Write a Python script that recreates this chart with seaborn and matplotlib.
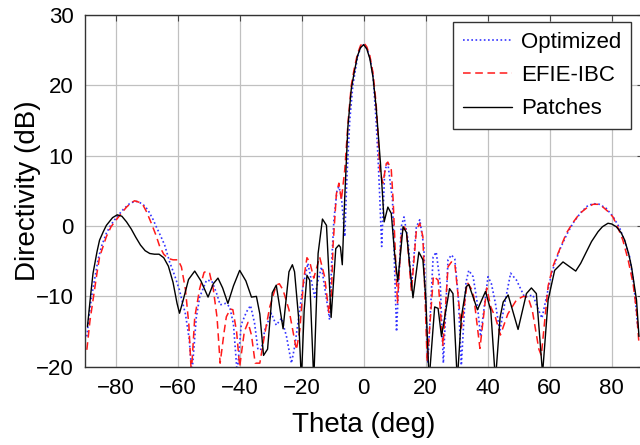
import numpy as np
import pandas as pd
import matplotlib
matplotlib.use("Agg")
import matplotlib.pyplot as plt
import seaborn as sns

# Patches (black solid)
patch_theta = [-89.1, -88, -87.3, -86, -85.2, -84, -83, -81, -79.5, -78, -76.5, -75, -73.5, -72,
               -70.5, -69, -67.5, -66, -64.5, -63, -61.5, -60.2, -59.4, -58.2, -56.5, -54.5, -52.5,
               -50.2, -48.5, -47, -45.5, -43.8, -42, -40, -38, -36.2, -34.6, -33.5, -32.3, -31,
               -29.5, -28.2, -26, -24.1, -23, -22.3, -21, -20.1, -19.2, -18.3, -17.4, -16.1, -14.7,
               -13.3, -12, -10.5, -9, -8, -7.5, -6.9, -6.1, -5.1, -4, -3, -2, -1, 0, 1, 2, 3, 4,
               4.8, 5.4, 6, 6.6, 7.8, 8.9, 10, 11, 12.7, 13.8, 15.9, 17.8, 19.1, 20, 21.1, 22.9, 24,
               25.1, 26.5, 27.7, 28.8, 30.2, 31.5, 33.1, 33.9, 36.7, 39.3, 41, 42.5, 44, 45, 46.6,
               49.8, 52.5, 54.1, 55.7, 57.7, 59.5, 61.6, 64.3, 66.5, 68.4, 70, 71.8, 73.5, 75.6, 77,
               78.8, 80, 81.5, 83, 84.2, 85.5, 86.4, 88, 88.8]
patch_db = [-14.3, -9.5, -6.7, -3.6, -2.0, -0.8, 0.1, 1.2, 1.6, 1.4, 0.6, -0.4, -1.6, -2.7,
            -3.5, -3.9, -4.0, -4.0, -4.5, -5.7, -8.0, -11, -12.4, -10.5, -7.6, -6.4, -7.8,
            -10.1, -8.2, -7.4, -8.8, -11, -8.5, -6.3, -7.8, -10.1, -10, -12.5, -18.4, -17.5,
            -9.5, -8.4, -14.6, -6.5, -5.5, -6.5, -13, -22, -12, -7, -7.7, -22, -3.9,
            1.0, 0.1, -13, -3.2, -2.7, -3, -5.5, 4.2, 14.1, 19.5, 22, 24.2, 25.4, 25.8, 25.2, 23.8, 21.2, 17,
            12.5, 9, 5, 0.6, 2.7, 1.8, -4, -7.9, -0.1, -0.9, -10.2, -3.7, -4.8, -10, -22, -11.5, -11.7,
            -15.7, -12, -8.9, -9.6, -22, -13, -8.6, -8.3, -11.9, -9.3, -12, -22, -13, -10.8, -9.8,
            -14.7, -9.6, -8.8, -9.6, -21, -10.5, -6.3, -5.1, -5.8, -6.4, -5.3, -3.7, -2.2, -0.8, -0.1,
            0.4, 0.3, -0.1, -0.9, -2, -4, -5.8, -10.5, -15.7]

# EFIE-IBC (red dashed)
efie_theta = [-89.3, -88.3, -87.3, -86, -85.2, -84, -83, -81.5, -79.8, -78, -76.5, -75, -73.9,
              -72.5, -71.2, -70, -68.5, -67, -65.8, -64.5, -63.1, -61.5, -59.9, -58.8, -57.5,
              -56.4, -55.6, -54.5, -52.9, -51.5, -50.7, -49.7, -48.5, -47.3, -46.3, -45, -44.3,
              -43, -42.2, -41, -40, -38.5, -37.3, -36.2, -35, -33.5, -31.9, -30.3, -28.2, -27.2,
              -26, -24.1, -21.7, -20.6, -19.4, -18.3, -17.4, -16.1, -14.2, -12.6, -11.2, -10.4,
              -9.9, -8.8, -8, -7.2, -6.1, -5, -4, -3, -2, -1, 0, 1, 2, 3, 4, 4.7, 5.2, 6.2, 7.3,
              7.8, 8.9, 9.5, 10.9, 12.1, 13, 13.8, 15.4, 17, 18.1, 19.1, 20.5, 22.5, 24, 25.6,
              27.2, 28.3, 29.4, 31.5, 33.4, 34.7, 35.5, 37.5, 39.7, 41, 42.5, 44.1, 46.5, 49.3,
              51.5, 53, 54.4, 56.5, 57.3, 59.5, 61, 62.2, 65.4, 67.5, 69.7, 72, 74, 75.5, 77.2,
              79, 80.4, 82, 83.6, 85.3, 86.9, 88, 88.8]
efie_db = [-17.6, -13.5, -10.5, -6.6, -4.4, -2.8, -1.5, -0.1, 0.9, 1.9, 2.7, 3.3, 3.6,
           3.4, 3.0, 2.0, 0.4, -1.3, -2.9, -4.0, -4.6, -4.8, -4.8, -5.8, -9,
           -14, -21, -13, -8.9, -6.6, -6.4, -6.7, -9, -13, -19.5, -15, -12.9,
           -11.8, -11.9, -15, -20, -15, -13.7, -15.5, -19.5, -19.5, -15.3, -11.5, -8.4, -8.2,
           -9.1, -11.9, -17.6, -14.8, -7.7, -4.5, -5.1, -7.4, -4.4, -7.2, -12.4, -9.6,
           -2.9, 4.6, 6.1, 3.7, 8, 15, 20, 22.5, 24.5, 25.7, 26.1, 25.5, 24.2, 21.8, 17.5, 12.5, 8, 6.1, 8.9,
           9.1, 8, 3.7, -11, -1.5, -0.1, -0.6, -9.3, -0.6, 0.4, -1.5, -19.3, -7.1, -7.7, -17,
           -5.8, -5.1, -5.3, -14.5, -8, -8.9, -10, -17.4, -8.8, -11.5, -13, -15.5, -12.5, -10.5,
           -10, -10.1, -12, -17.5, -18.4, -8.5, -5.8, -4.4, -1.0, 0.5, 1.8, 2.6, 3.1, 3.1, 2.7,
           2.0, 1.3, -0.2, -2, -4.8, -8.2, -12, -16.7]

# Optimized (blue dotted)
opt_theta = [-89.3, -88.5, -87.8, -86.5, -85.7, -84.5, -83, -81.5, -79.8, -77.5, -75.5, -74, -72.8,
             -71, -69.6, -68, -66.9, -65.5, -64.2, -62.6, -61, -59.5, -57.5, -56.3, -55.4, -54,
             -52.9, -50.7, -49, -47.5, -46.3, -44.5, -43.2, -42, -40.8, -39.5, -37.8, -36.5,
             -35.2, -34.1, -33, -31.9, -29.8, -28.2, -26.5, -24.9, -23.3, -22.2, -21.2, -19.6,
             -18, -16.9, -15.8, -14.7, -13.6, -12.3, -11, -10.3, -9.6, -8.6, -8, -7.2, -6.1,
             -5.4, -4.5, -3.5, -2, -1, 0, 1, 2, 3, 4, 4.6, 5.2, 5.8, 6.8, 7.8, 9.3, 10.6, 12.1,
             13, 14.3, 15.4, 17, 18.1, 19.4, 20.7, 22.4, 23.4, 24.7, 25.7, 27.2, 28.3, 29.4, 30.5,
             31.5, 33, 33.9, 35.3, 36.5, 37.7, 40.1, 41.2, 42.5, 43.9, 45.5, 47.4, 49.3, 51.9,
             54.6, 56, 57.5, 59, 60.5, 61.5, 63.2, 65.5, 67.5, 70, 72, 74, 76, 78.3, 80.5, 82.6,
             84.3, 85.8, 87.2, 88.5]
opt_db = [-15.7, -12.5, -10.1, -6.8, -4.8, -2.8, -1.0, 0.2, 1.2, 2.4, 3.2, 3.5, 3.5,
          3.0, 2.3, 1.0, -0.1, -1.4, -2.7, -5.1, -7.0, -9, -12.5, -16, -21, -13,
          -10.1, -7.7, -7.8, -9.5, -11.2, -11, -11.5, -14, -21, -14, -12.2, -11.3,
          -13.8, -17.6, -17.5, -14.8, -12.4, -14.1, -13.1, -15.7, -19.5, -17, -13.8, -8.6,
          -5.3, -7.7, -10.1, -7.7, -5.8, -9.6, -13.3, -5, 0.9, 5.1, 5.6, 4.2, -1.5,
          7, 15, 20, 24, 25.4, 25.8, 25.3, 24, 21.5, 15, 10, 4, -2.9, 8, 8.9, 3.7, -15, -0.1,
          1.3, -2, -8.6, -0.1, 0.9, -2.9, -19.5, -4.4, -3.7, -8.2, -19.5, -4.8, -4.1, -4.7, -10,
          -19.8, -8, -6.3, -7.2, -10.5, -15.7, -7.2, -8.2, -11, -15, -11, -6.7, -7.7, -10.1,
          -9.8, -11.5, -13.1, -10, -7, -5.5, -3.4, -1.2, 0.4, 1.9, 2.8, 3.2, 3.1, 2.5, 1.3, -0.3,
          -2.3, -4.4, -8.5, -14.8]

x_ticks = [-80, -60, -40, -20, 0, 20, 40, 60, 80]
y_ticks = [-20, -10, 0, 10, 20, 30]

sns.set_theme(style="whitegrid")
plt.rcParams['font.family'] = ['Liberation Sans', 'DejaVu Sans']
plt.rcParams['text.color'] = 'black'
plt.rcParams['axes.labelcolor'] = 'black'
plt.rcParams['xtick.color'] = 'black'
plt.rcParams['ytick.color'] = 'black'

fig = plt.figure(figsize=(6.4, 4.45), dpi=100)
ax = fig.add_axes([0.1323, 0.176, 0.8719, 0.7899])

sns.lineplot(x=opt_theta, y=opt_db, ax=ax, color='#3333ff', linestyle=(0, (1, 1.5)),
             linewidth=1.2, label='Optimized', sort=False)
sns.lineplot(x=efie_theta, y=efie_db, ax=ax, color='#ff1a1a', linestyle=(0, (5, 3)),
             linewidth=1.1, label='EFIE-IBC', sort=False)
sns.lineplot(x=patch_theta, y=patch_db, ax=ax, color='black', linestyle='-',
             linewidth=1.0, label='Patches', sort=False)

ax.set_xlim(-90, 90)
ax.set_ylim(-20, 30)
ax.set_xticks(x_ticks)
ax.set_yticks(y_ticks)
ax.grid(True, color='#c0c0c0', linewidth=0.9)
for s in ax.spines.values():
    s.set_color('#333333')
    s.set_linewidth(1.0)
ax.tick_params(direction='in', length=4, width=0.8, color='#444444',
               labelcolor='black', top=True, right=True, labelsize=16, pad=8)
ax.set_xlabel('Theta (deg)', fontsize=20)
ax.set_ylabel('Directivity (dB)', fontsize=20)
ax.xaxis.set_label_coords(0.5, -0.128)
ax.yaxis.set_label_coords(-0.078, 0.5)

leg = ax.legend(loc='upper right', fontsize=16, frameon=True, fancybox=False,
                edgecolor='#333333', framealpha=1, handlelength=2.2, handletextpad=0.4,
                borderpad=0.45, labelspacing=0.55, borderaxespad=0,
                bbox_to_anchor=(0.979, 0.981))
leg.get_frame().set_linewidth(1.0)
for t in leg.get_texts():
    t.set_color('black')

fig.savefig('out.png', dpi=100)
